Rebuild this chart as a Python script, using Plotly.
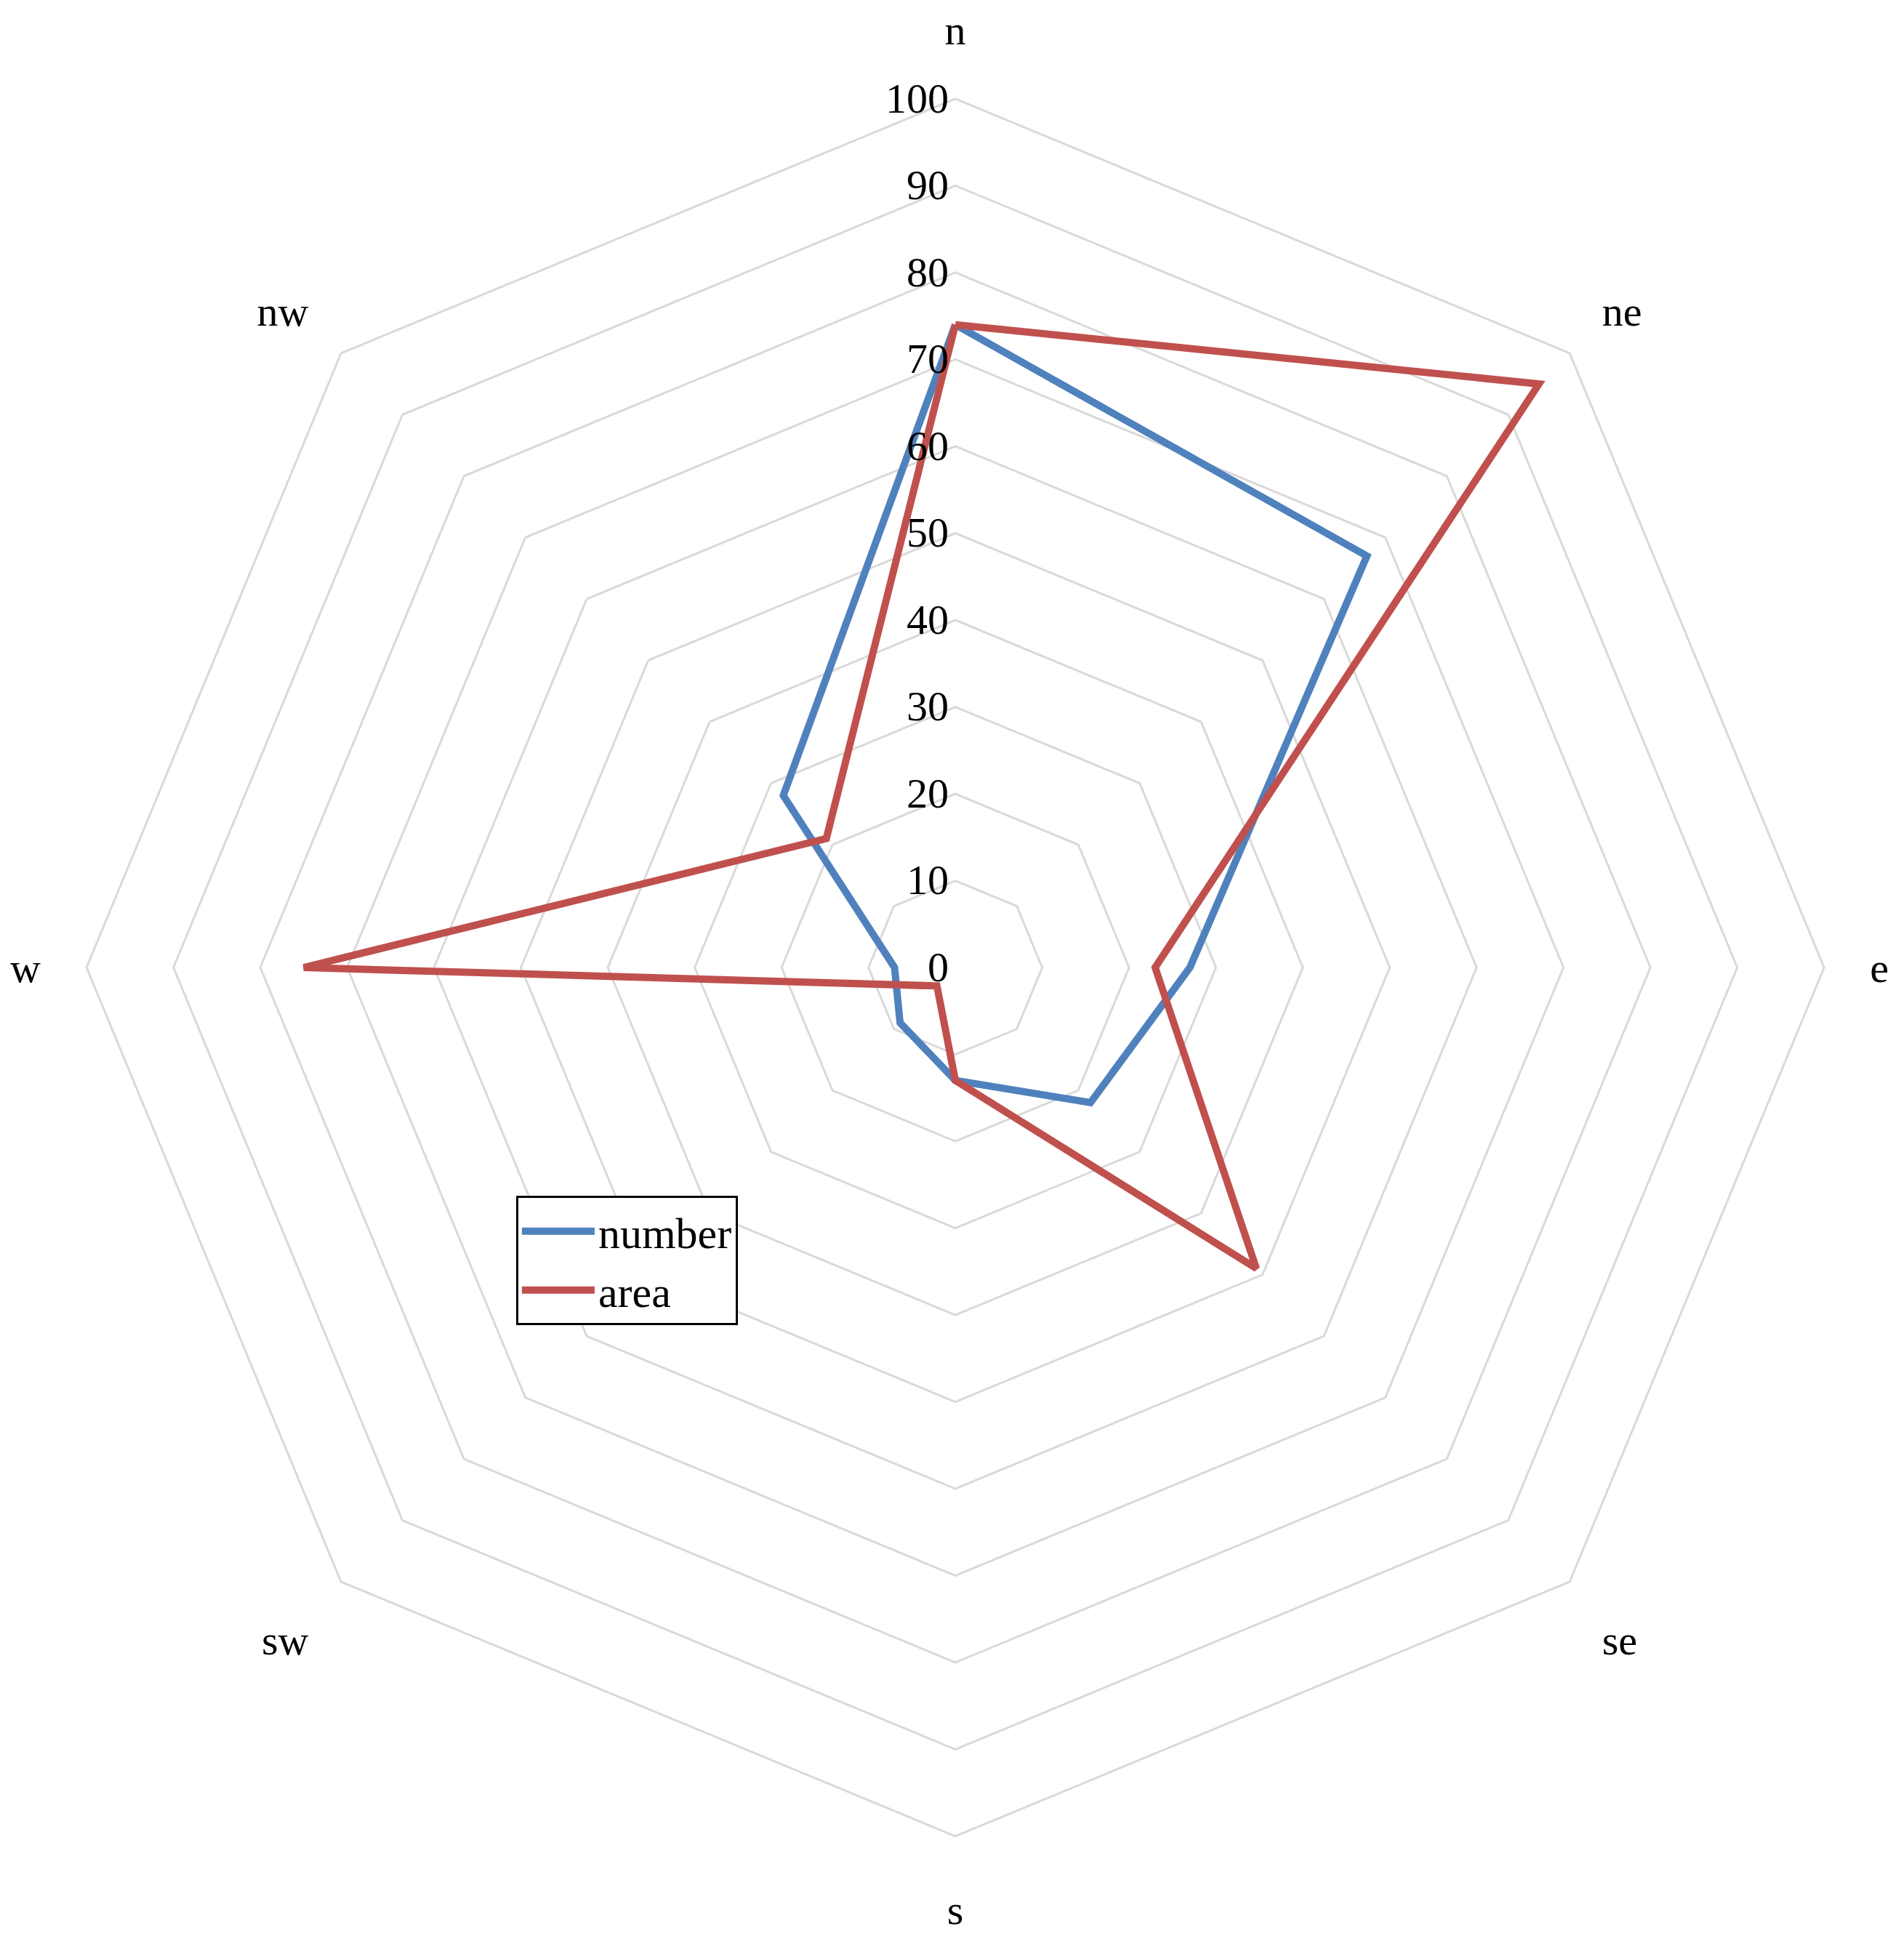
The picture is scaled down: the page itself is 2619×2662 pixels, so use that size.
import plotly.graph_objects as go

directions = ["n", "ne", "e", "se", "s", "sw", "w", "nw"]
number = [74, 67, 27, 22, 13, 9, 7, 28]
area = [74, 95, 23, 49, 13, 3, 75, 21]

fig = go.Figure()
for name, vals, col in [("number", number, "#4F81BD"), ("area", area, "#C0504D")]:
    fig.add_trace(go.Scatterpolar(r=vals + vals[:1], theta=directions + directions[:1],
                                  mode="lines", name=name, line=dict(color=col, width=10)))

fig.update_layout(
    width=2619, height=2662, paper_bgcolor="white", plot_bgcolor="white",
    margin=dict(l=0, r=0, t=0, b=0),
    font=dict(family="Liberation Serif", size=56, color="black"),
    polar=dict(
        domain=dict(x=[0.0424, 0.955], y=[0.054, 0.952]),
        gridshape="linear", bgcolor="white",
        angularaxis=dict(direction="clockwise", rotation=90, showline=True, linecolor="#D9D9D9",
                         linewidth=3, showgrid=False, ticks="outside", ticklen=50,
                         tickcolor="rgba(0,0,0,0)", tickfont=dict(size=58)),
        radialaxis=dict(range=[0, 100], dtick=10, angle=90, tickangle=90, showline=False,
                        gridcolor="#D9D9D9", gridwidth=3, ticks="", side="counterclockwise",
                        tickfont=dict(size=58)),
    ),
    legend=dict(x=0.268, y=0.385, xanchor="left", yanchor="top", bordercolor="black",
                borderwidth=3, bgcolor="white", font=dict(size=60), itemwidth=100,
                tracegroupgap=20),
)
fig.write_html("out.html")
